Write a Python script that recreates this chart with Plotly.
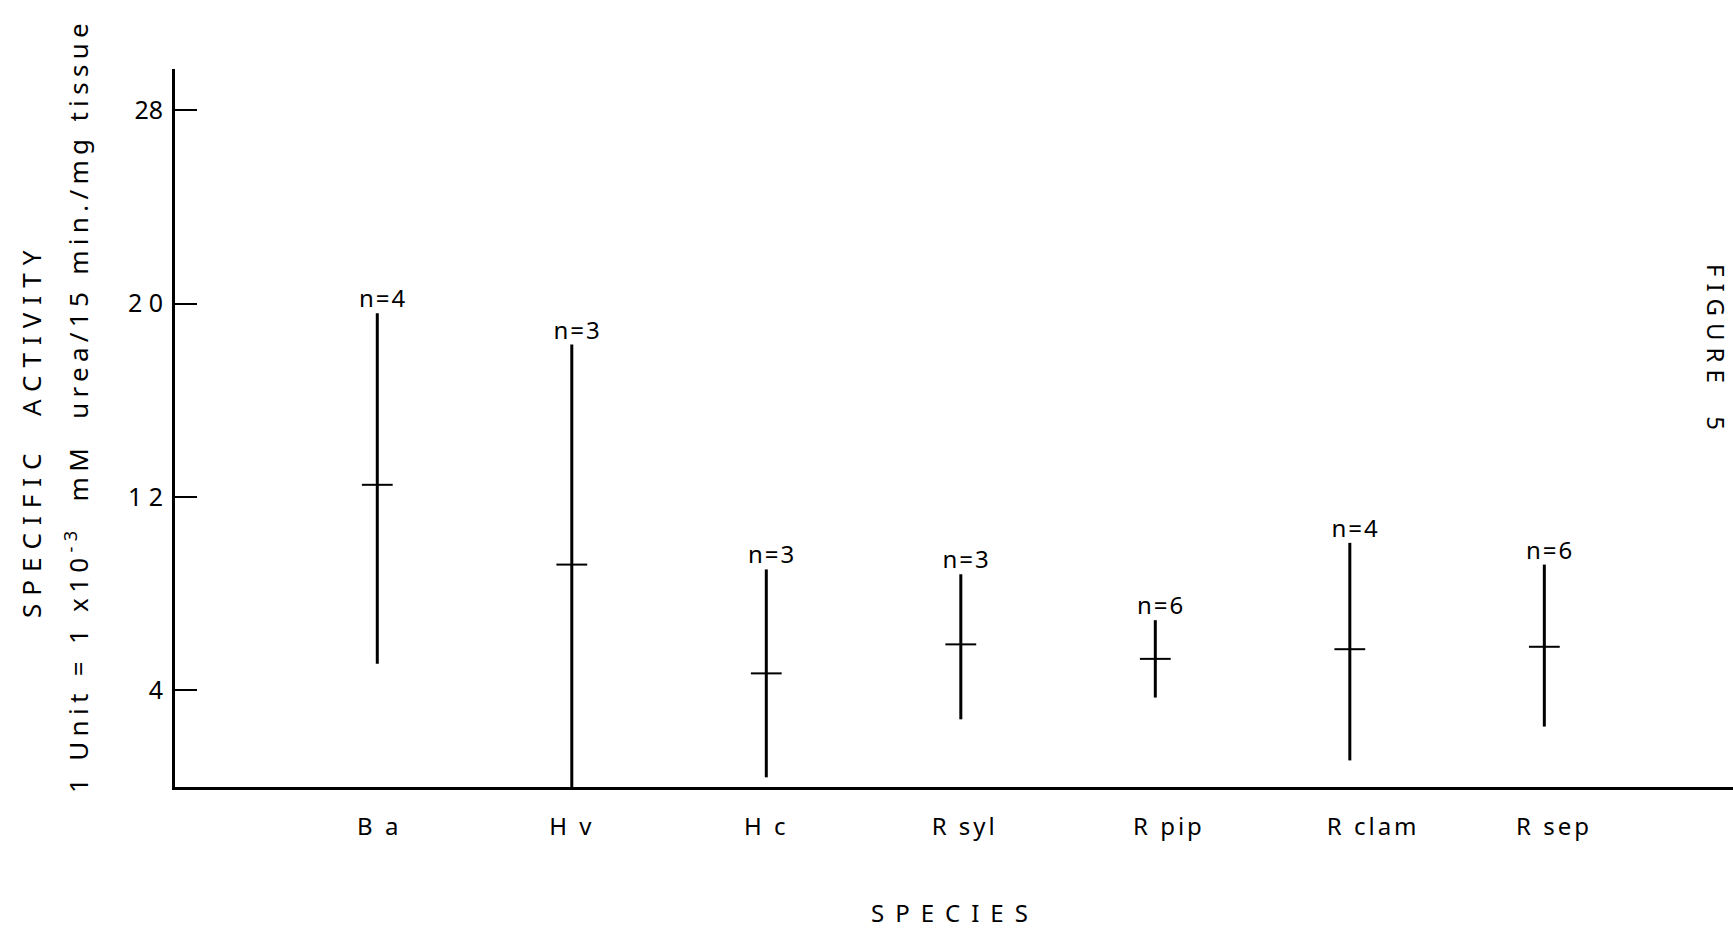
import plotly.graph_objects as go

species = ["B a", "H v", "H c", "R syl", "R pip", "R clam", "R sep"]
label_shift = [0.01, 0.0, 0.0, 0.02, 0.07, 0.12, 0.05]
means = [12.5, 9.2, 4.7, 5.9, 5.3, 5.7, 5.8]
highs = [19.6, 18.3, 9.0, 8.8, 6.9, 10.1, 9.2]
lows = [5.1, 0.0, 0.4, 2.8, 3.7, 1.1, 2.5]
n_labels = ["n=4", "n=3", "n=3", "n=3", "n=6", "n=4", "n=6"]
y_ticks = [4, 12, 20, 28]
y_ticktext = ["4", "1 2", "2 0", "28"]

W, H = 1733, 930
L, R, T, B = 175, 0, 69, 143
FONT = "Noto Sans"

xpos = list(range(len(species)))


def sp(s, ls):
    return f'<span style="letter-spacing:{ls}px">{s}</span>'


fig = go.Figure()
fig.add_trace(go.Scatter(
    x=xpos, y=means, mode="markers",
    marker=dict(symbol="line-ew", size=22, line=dict(width=2, color="black"), color="black"),
    error_y=dict(type="data", symmetric=False,
                 array=[h - m for h, m in zip(highs, means)],
                 arrayminus=[m - l for m, l in zip(means, lows)],
                 width=0, thickness=3, color="black"),
    showlegend=False, hoverinfo="skip"))
fig.add_trace(go.Scatter(
    x=[x + 0.03 for x in xpos], y=highs, mode="text", text=[sp(t, 2) for t in n_labels],
    textposition="top center",
    textfont=dict(family=FONT, size=24, color="black"),
    showlegend=False, hoverinfo="skip"))

pw = W - L - R
ph = H - T - B


def px_x(px):
    return (px - L) / pw


def px_y(py):
    return (H - B - py) / ph


fig.add_annotation(text=sp("SPECIFIC  ACTIVITY", 8), textangle=-90,
                   xref="paper", yref="paper", x=px_x(31), y=px_y(431),
                   xanchor="center", yanchor="middle",
                   showarrow=False, font=dict(family=FONT, size=26, color="black"))
fig.add_annotation(text=sp("1 Unit = 1 x10<sup>-3</sup>  mM  urea/15 min./mg tissue", 5.3), textangle=-90,
                   xref="paper", yref="paper", x=px_x(77), y=px_y(406),
                   xanchor="center", yanchor="middle",
                   showarrow=False, font=dict(family=FONT, size=26, color="black"))
fig.add_annotation(text=sp("SPECIES", 11),
                   xref="paper", yref="paper", x=px_x(955), y=px_y(912),
                   xanchor="center", yanchor="middle",
                   showarrow=False, font=dict(family=FONT, size=24, color="black"))
fig.add_annotation(text=sp("FIGURE  5", 7), textangle=90,
                   xref="paper", yref="paper", x=px_x(1717), y=px_y(350),
                   xanchor="center", yanchor="middle",
                   showarrow=False, font=dict(family=FONT, size=24, color="black"))

fig.update_layout(
    width=W, height=H,
    margin=dict(l=L, r=R, t=T, b=B, pad=0),
    paper_bgcolor="white", plot_bgcolor="white",
    font=dict(family=FONT, color="black"),
    xaxis=dict(range=[-1.04, 6.97], tickvals=[x + s for x, s in zip(xpos, label_shift)],
               ticktext=[sp(s, 3) for s in species],
               showgrid=False, zeroline=False, showline=True, linecolor="black", linewidth=3,
               ticks="", tickfont=dict(family=FONT, size=24, color="black"),
               ticklabelstandoff=16, fixedrange=True),
    yaxis=dict(range=[0, 29.7], tickvals=y_ticks, ticktext=y_ticktext,
               showgrid=False, zeroline=False, showline=True, linecolor="black", linewidth=3,
               ticks="inside", ticklen=22, tickwidth=2, tickcolor="black",
               tickfont=dict(family=FONT, size=25, color="black"),
               ticklabelstandoff=4, fixedrange=True),
)

fig.write_html("out.html")
